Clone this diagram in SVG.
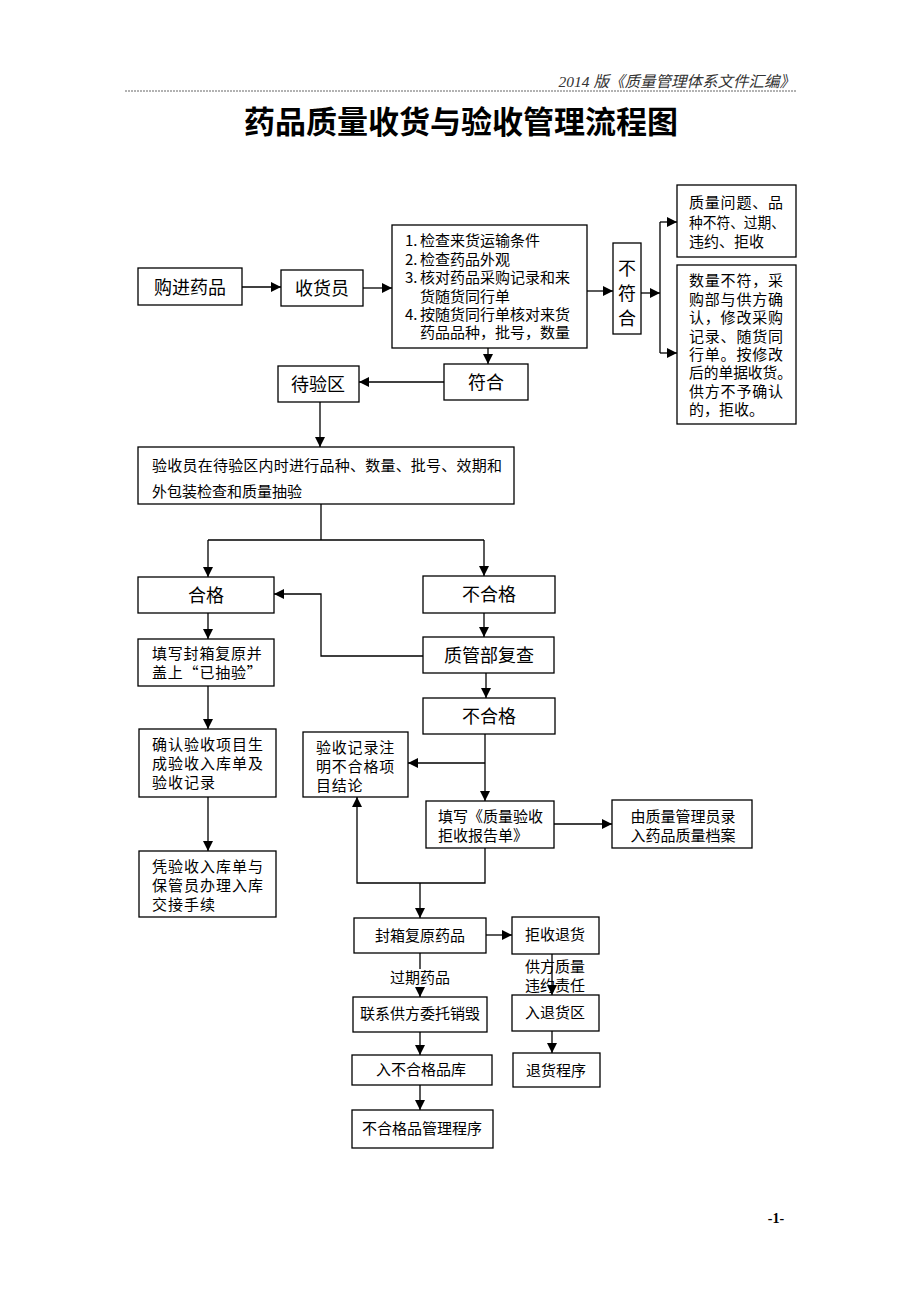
<svg xmlns="http://www.w3.org/2000/svg" width="920" height="1302" viewBox="0 0 920 1302">
<style>
.b{fill:#fff;stroke:#000;stroke-width:1.3}
.t{font-family:"Noto Sans CJK SC",sans-serif;font-size:15px;fill:#000}
.m{font-family:"Noto Sans CJK SC",sans-serif;font-size:18px;fill:#000;text-anchor:middle}
.c{text-anchor:middle}
.k{fill:none;stroke:#000;stroke-width:1.3}
.a{marker-end:url(#ah)}
</style>
<defs>
<marker id="ah" markerUnits="userSpaceOnUse" markerWidth="10" markerHeight="10" refX="10" refY="5" orient="auto">
<path d="M0,0 L10,5 L0,10 z" fill="#000"/>
</marker>
</defs>
<rect x="0" y="0" width="920" height="1302" fill="#fff"/>

<g id="header">
<text x="795" y="87" font-family="Liberation Serif,Noto Sans CJK SC,serif" font-size="15.5" font-style="italic" text-anchor="end" fill="#333">2014 版《质量管理体系文件汇编》</text>
<line x1="125" y1="91" x2="797" y2="91" stroke="#666" stroke-width="1.2" stroke-dasharray="2,1"/>
<text x="461" y="133" font-family="Noto Sans CJK SC,sans-serif" font-size="31" font-weight="700" text-anchor="middle">药品质量收货与验收管理流程图</text>
</g>

<g id="connectors">
<path class="k a" d="M242,287 H281"/>
<path class="k a" d="M363,288 H392"/>
<path class="k a" d="M587,291 H613"/>
<path class="k a" d="M641,293 H660"/>
<path class="k" d="M660,222 V353"/>
<path class="k a" d="M660,222 H677"/>
<path class="k a" d="M660,353 H677"/>
<path class="k a" d="M488,348 V364"/>
<path class="k a" d="M444,382 H359"/>
<path class="k a" d="M320,402 V447"/>
<path class="k" d="M321,504 V540 M208,540 H484"/>
<path class="k a" d="M208,540 V577"/>
<path class="k a" d="M484,540 V576"/>
<path class="k a" d="M208,613 V639"/>
<path class="k a" d="M484,613 V637"/>
<path class="k a" d="M423,656 H321 V594 H274"/>
<path class="k a" d="M486,673 V698"/>
<path class="k a" d="M485,734 V801"/>
<path class="k a" d="M485,763 H408"/>
<path class="k a" d="M208,686 V729"/>
<path class="k a" d="M208,797 V851"/>
<path class="k a" d="M554,824 H612"/>
<path class="k a" d="M485,848 V883 H357 V797"/>
<path class="k a" d="M420,883 V918"/>
<path class="k a" d="M486,935 H512"/>
<path class="k a" d="M420,953 V997"/>
<path class="k a" d="M552,954 V995"/>
<path class="k a" d="M420,1032 V1055"/>
<path class="k a" d="M552,1031 V1053"/>
<path class="k a" d="M420,1085 V1110"/>
</g>

<g id="n1"><rect class="b" x="138" y="268" width="104" height="37"/><text class="m" x="190" y="293.5">购进药品</text></g>
<g id="n2"><rect class="b" x="281" y="270" width="82" height="36"/><text class="m" x="322" y="294.5">收货员</text></g>
<g id="n3"><rect class="b" x="392" y="225" width="195" height="123"/>
<text class="t"><tspan x="405" y="246.4">1.</tspan><tspan x="420" y="246.4">检查来货运输条件</tspan>
<tspan x="405" y="264.8">2.</tspan><tspan x="420" y="264.8">检查药品外观</tspan>
<tspan x="405" y="283.2">3.</tspan><tspan x="420" y="283.2">核对药品采购记录和来</tspan>
<tspan x="420" y="301.6">货随货同行单</tspan>
<tspan x="405" y="320">4.</tspan><tspan x="420" y="320">按随货同行单核对来货</tspan>
<tspan x="420" y="338.4">药品品种，批号，数量</tspan></text></g>
<g id="n4"><rect class="b" x="613" y="243" width="28" height="91"/>
<text class="m" x="627" y="274.5">不</text><text class="m" x="627" y="299.5">符</text><text class="m" x="627" y="324.5">合</text></g>
<g id="n5"><rect class="b" x="677" y="185" width="119" height="72"/>
<text class="t"><tspan x="689" y="208.4" textLength="94" lengthAdjust="spacing">质量问题、品</tspan>
<tspan x="689" y="228.4" textLength="96" lengthAdjust="spacingAndGlyphs">种不符、过期、</tspan>
<tspan x="689" y="247.4">违约、拒收</tspan></text></g>
<g id="n6"><rect class="b" x="677" y="265" width="119" height="159"/>
<text class="t"><tspan x="689" y="286.4" textLength="94" lengthAdjust="spacing">数量不符，采</tspan>
<tspan x="689" y="304.8" textLength="94" lengthAdjust="spacing">购部与供方确</tspan>
<tspan x="689" y="323.2" textLength="94" lengthAdjust="spacing">认，修改采购</tspan>
<tspan x="689" y="341.6" textLength="94" lengthAdjust="spacing">记录、随货同</tspan>
<tspan x="689" y="360" textLength="94" lengthAdjust="spacing">行单。按修改</tspan>
<tspan x="689" y="378.4" textLength="103" lengthAdjust="spacingAndGlyphs">后的单据收货。</tspan>
<tspan x="689" y="396.8" textLength="94" lengthAdjust="spacing">供方不予确认</tspan>
<tspan x="689" y="415.2">的，拒收。</tspan></text></g>
<g id="n7"><rect class="b" x="444" y="364" width="84" height="36"/><text class="m" x="486" y="388.5">符合</text></g>
<g id="n8"><rect class="b" x="278" y="366" width="81" height="36"/><text class="m" x="318" y="390.5">待验区</text></g>
<g id="n9"><rect class="b" x="138" y="447" width="376" height="57"/>
<text class="t"><tspan x="152" y="471.4" textLength="350" lengthAdjust="spacing">验收员在待验区内时进行品种、数量、批号、效期和</tspan>
<tspan x="152" y="497.4">外包装检查和质量抽验</tspan></text></g>
<g id="n10"><rect class="b" x="138" y="577" width="136" height="36"/><text class="m" x="206" y="601.5">合格</text></g>
<g id="n11"><rect class="b" x="423" y="576" width="132" height="37"/><text class="m" x="489" y="601">不合格</text></g>
<g id="n12"><rect class="b" x="138" y="639" width="136" height="47"/>
<text class="t" letter-spacing="0.8"><tspan x="152" y="659.4">填写封箱复原并</tspan><tspan x="152" y="678.4">盖上“已抽验”</tspan></text></g>
<g id="n13"><rect class="b" x="423" y="637" width="131" height="36"/><text class="m" x="489" y="661.5">质管部复查</text></g>
<g id="n14"><rect class="b" x="423" y="698" width="132" height="36"/><text class="m" x="489" y="722.5">不合格</text></g>
<g id="n15"><rect class="b" x="139" y="729" width="137" height="68"/>
<text class="t" letter-spacing="1"><tspan x="152" y="750.4">确认验收项目生</tspan><tspan x="152" y="769.4">成验收入库单及</tspan><tspan x="152" y="788.4">验收记录</tspan></text></g>
<g id="n16"><rect class="b" x="139" y="851" width="137" height="66"/>
<text class="t" letter-spacing="1"><tspan x="152" y="872.4">凭验收入库单与</tspan><tspan x="152" y="891.4">保管员办理入库</tspan><tspan x="152" y="910.4">交接手续</tspan></text></g>
<g id="n17"><rect class="b" x="303" y="732" width="105" height="65"/>
<text class="t" letter-spacing="0.8"><tspan x="316" y="753.4">验收记录注</tspan><tspan x="316" y="772.4">明不合格项</tspan><tspan x="316" y="791.4">目结论</tspan></text></g>
<g id="n18"><rect class="b" x="426" y="801" width="128" height="47"/>
<text class="t"><tspan x="438" y="822.4">填写《质量验收</tspan><tspan x="438" y="840.8">拒收报告单》</tspan></text></g>
<g id="n19"><rect class="b" x="612" y="800" width="140" height="48"/>
<text class="t c"><tspan x="683" y="822.4">由质量管理员录</tspan><tspan x="683" y="840.8">入药品质量档案</tspan></text></g>
<g id="n20"><rect class="b" x="354" y="918" width="132" height="35"/><text class="t c" x="420" y="941.4">封箱复原药品</text></g>
<g id="n21"><rect class="b" x="512" y="917" width="87" height="37"/><text class="t c" x="555" y="940.4">拒收退货</text></g>
<g id="n22"><rect class="b" x="353" y="997" width="134" height="35"/><text class="t c" x="420" y="1019.4">联系供方委托销毁</text></g>
<g id="n23"><rect class="b" x="512" y="995" width="87" height="36"/><text class="t c" x="555" y="1018.4">入退货区</text></g>
<g id="n24"><rect class="b" x="352" y="1055" width="140" height="30"/><text class="t c" x="421" y="1075.4">入不合格品库</text></g>
<g id="n25"><rect class="b" x="513" y="1053" width="87" height="34"/><text class="t c" x="556" y="1076.4">退货程序</text></g>
<g id="n26"><rect class="b" x="352" y="1110" width="141" height="38"/><text class="t c" x="422" y="1134.4">不合格品管理程序</text></g>

<g id="labels">
<rect x="389" y="969" width="62" height="18" fill="#fff"/>
<text class="t c" x="420" y="983.4">过期药品</text>
<text class="t"><tspan x="525" y="972.4">供方质量</tspan><tspan x="525" y="990.8">违约责任</tspan></text>
</g>

<g id="footer">
<text x="776" y="1223" font-family="Liberation Serif,serif" font-size="14" font-weight="700" text-anchor="middle">-1-</text>
</g>
</svg>
